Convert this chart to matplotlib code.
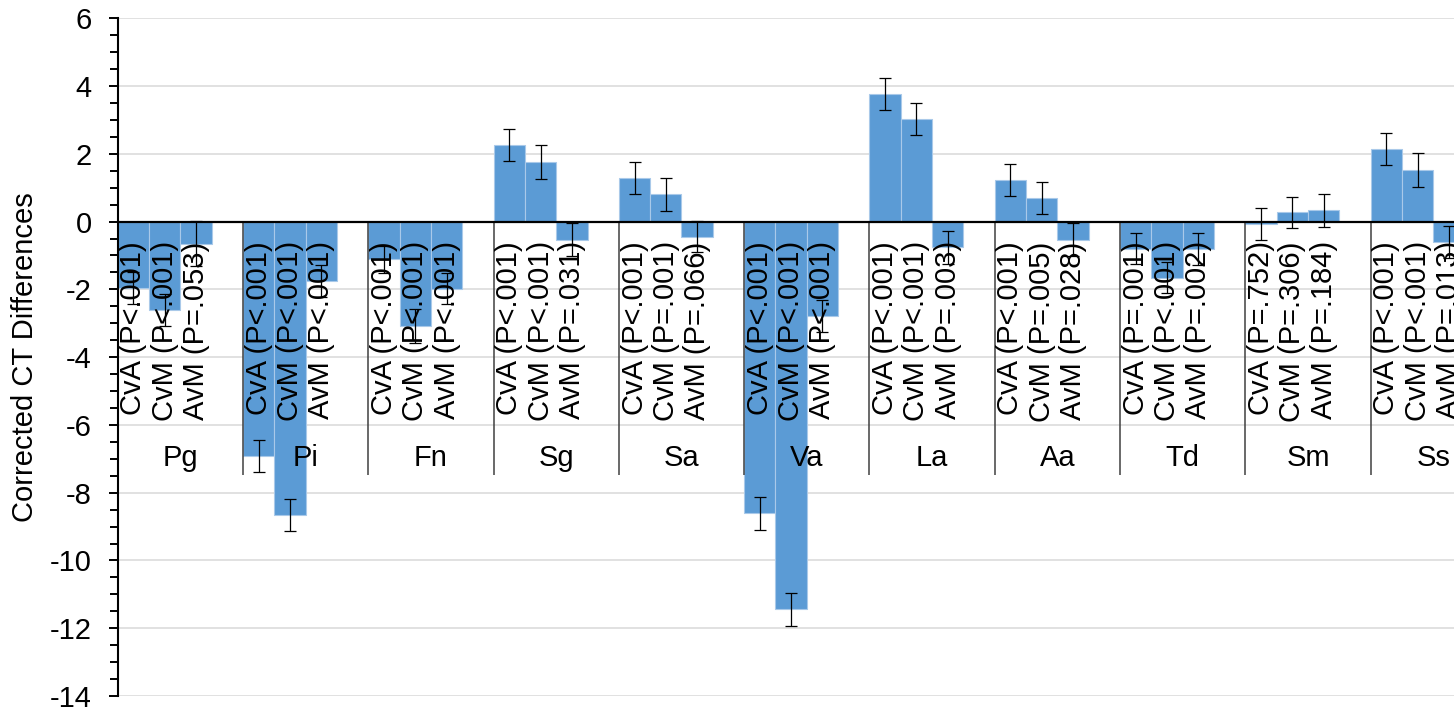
import numpy as np
import matplotlib
matplotlib.use('Agg')
import matplotlib.pyplot as plt
from matplotlib.ticker import MultipleLocator

plt.rcParams['font.family'] = ['Liberation Sans', 'DejaVu Sans']
plt.rcParams['axes.unicode_minus'] = False

# species groups and the three pairwise comparisons
groups = ['Pg', 'Pi', 'Fn', 'Sg', 'Sa', 'Va', 'La', 'Aa', 'Td', 'Sm', 'Ss']
comparisons = ['CvA', 'CvM', 'AvM']

# corrected CT differences per comparison
cva = [-1.95, -6.92, -1.11, 2.27, 1.29, -8.61, 3.76, 1.24, -0.80, -0.07, 2.15]
cvm = [-2.62, -8.66, -3.07, 1.76, 0.81, -11.44, 3.02, 0.69, -1.65, 0.27, 1.52]
avm = [-0.65, -1.75, -1.98, -0.53, -0.44, -2.79, -0.76, -0.53, -0.80, 0.33, -0.59]

# error bar half widths
cva_err = [0.47, 0.47, 0.40, 0.47, 0.47, 0.48, 0.47, 0.47, 0.45, 0.48, 0.47]
cvm_err = [0.47, 0.47, 0.50, 0.49, 0.49, 0.49, 0.47, 0.47, 0.47, 0.47, 0.49]
avm_err = [0.66, 0.47, 0.45, 0.48, 0.47, 0.48, 0.48, 0.49, 0.47, 0.49, 0.47]

# p-values printed under each bar
cva_p = ['P<.001', 'P<.001', 'P<.001', 'P<.001', 'P<.001', 'P<.001', 'P<.001', 'P<.001', 'P=.001', 'P=.752', 'P<.001']
cvm_p = ['P<.001', 'P<.001', 'P<.001', 'P<.001', 'P=.001', 'P<.001', 'P<.001', 'P=.005', 'P<.001', 'P=.306', 'P<.001']
avm_p = ['P=.053', 'P<.001', 'P<.001', 'P=.031', 'P=.066', 'P<.001', 'P=.003', 'P=.028', 'P=.002', 'P=.184', 'P=.013']

values = [cva, cvm, avm]
errors = [cva_err, cvm_err, avm_err]
pvals = [cva_p, cvm_p, avm_p]

blue = '#5B9BD5'
fs = 21

fig = plt.figure(figsize=(14.54, 7.12), dpi=100)
ax = fig.add_axes([0.0809, 0.0225, 0.9191, 0.9518])

n = len(groups)
w = 0.25  # four slots per group, last one left empty
x0 = np.arange(n)

for j in range(3):
    xs = x0 + j * w
    ax.bar(xs, values[j], width=w, align='edge', color=blue,
           edgecolor='#A9C9E9', linewidth=0.8, zorder=2)
    ax.errorbar(xs + w / 2, values[j], yerr=errors[j], fmt='none',
                ecolor='black', elinewidth=0.9, capsize=4.3, capthick=0.9, zorder=5)
    for i in range(n):
        ax.text(xs[i] + w / 2, -0.58, comparisons[j] + ' (' + pvals[j][i] + ')',
                rotation=90, ha='center', va='top', fontsize=fs, zorder=4)

# outer category labels and separators
for i, g in enumerate(groups):
    ax.text(i + 0.5, -6.98, g, ha='center', va='center', fontsize=fs, zorder=4)
ax.vlines(np.arange(1, n + 1), -7.49, 0, color='#404040', lw=1.1, zorder=3)

ax.axhline(0, color='black', lw=1.6, zorder=3)

ax.set_xlim(0, 10.665)
ax.set_ylim(-14, 6)
ax.set_yticks(range(-14, 7, 2))
ax.yaxis.set_minor_locator(MultipleLocator(0.5))
ax.set_xticks([])
ax.tick_params(axis='y', which='major', length=6.5, width=1.4, labelsize=fs, pad=12)
ax.tick_params(axis='y', which='minor', length=5.5, width=1.4)

ax.yaxis.grid(True, color='#D9D9D9', lw=1.1)
ax.set_axisbelow(True)

for side in ['top', 'right', 'bottom']:
    ax.spines[side].set_visible(False)
ax.spines['left'].set_linewidth(1.5)

fig.text(25 / 1454, 0.499, 'Corrected CT Differences', rotation=90,
         ha='center', va='center', fontsize=fs)

fig.savefig('out.png', dpi=100)
